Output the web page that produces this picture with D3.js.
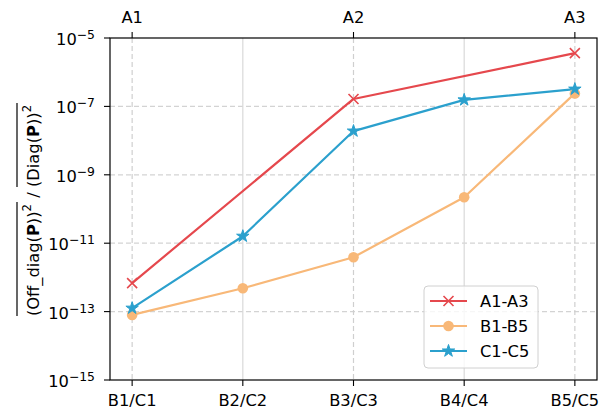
<!DOCTYPE html>
<html><head><meta charset="utf-8">
<script src="https://cdn.jsdelivr.net/npm/d3@7"></script>
<style>body{margin:0;background:#fff}svg{display:block;font-family:"DejaVu Sans",sans-serif}</style>
</head><body><svg id="c" width="610" height="412"></svg>
<script>
const categories = ["B1/C1","B2/C2","B3/C3","B4/C4","B5/C5"];
const topTicks = ["A1","A2","A3"];
const topPositions = [1,3,5];
const seriesA = [6.8e-13, 1.65e-7, 3.6e-6];          // at positions 1,3,5
const seriesB = [8e-14, 4.8e-13, 3.9e-12, 2.2e-10, 2.4e-7];
const seriesC = [1.26e-13, 1.6e-11, 1.9e-8, 1.55e-7, 3.2e-7];
const yTicks = [1e-5,1e-7,1e-9,1e-11,1e-13,1e-15];
const yExps = [-5,-7,-9,-11,-13,-15];
const seriesNames = ["A1-A3","B1-B5","C1-C5"];
const colors = ["#e5484d","#f8b878","#2ba0cd"];

const svg = d3.select("#c");
const L=110,R=597,T=38,B=380;
const x = d3.scaleLinear().domain([0.8,5.2]).range([L,R]);
const y = d3.scaleLog().domain([1e-15,1e-5]).range([B,T]);
const FS = 16.3;

// grid
const g = svg.append("g");
g.selectAll(".hg").data(yTicks.slice(1,5)).enter().append("line")
 .attr("x1",L).attr("x2",R).attr("y1",d=>y(d)).attr("y2",d=>y(d))
 .attr("stroke","#d3d3d3").attr("stroke-width",1.2).attr("stroke-dasharray","5,3");
g.selectAll(".vg").data([2,4]).enter().append("line")
 .attr("x1",d=>x(d)).attr("x2",d=>x(d)).attr("y1",T).attr("y2",B)
 .attr("stroke","#d9d9d9").attr("stroke-width",1.2);
g.selectAll(".vg2").data(topPositions).enter().append("line")
 .attr("x1",d=>x(d)).attr("x2",d=>x(d)).attr("y1",T).attr("y2",B)
 .attr("stroke","#cfcfcf").attr("stroke-width",1.2).attr("stroke-dasharray","5,3");

// lines
const line = d3.line().x(d=>x(d[0])).y(d=>y(d[1]));
const dataA = seriesA.map((v,i)=>[topPositions[i],v]);
const dataB = seriesB.map((v,i)=>[i+1,v]);
const dataC = seriesC.map((v,i)=>[i+1,v]);
const all = [dataA,dataB,dataC];
all.forEach((d,i)=>{
  svg.append("path").datum(d).attr("d",line).attr("fill","none")
    .attr("stroke",colors[i]).attr("stroke-width",2.2).attr("stroke-linejoin","round");
});
function marker(sel, type, col){
  if(type===0){
    sel.append("path").attr("d","M-5,-5L5,5M-5,5L5,-5").attr("stroke",col).attr("stroke-width",1.6).attr("fill","none");
  } else if(type===1){
    sel.append("circle").attr("r",5.3).attr("fill",col);
  } else {
    sel.append("path").attr("d",d3.symbol().type(d3.symbolStar).size(48)()).attr("fill",col).attr("stroke",col).attr("stroke-width",1).attr("stroke-linejoin","round");
  }
}
all.forEach((d,i)=>{
  d.forEach(p=>{
    const m = svg.append("g").attr("transform",`translate(${x(p[0])},${y(p[1])})`);
    marker(m,i,colors[i]);
  });
});

// frame
svg.append("rect").attr("x",L).attr("y",T).attr("width",R-L).attr("height",B-T)
 .attr("fill","none").attr("stroke","#000").attr("stroke-width",1.2);

// bottom axis
categories.forEach((c,i)=>{
  const xx=x(i+1);
  svg.append("line").attr("x1",xx).attr("x2",xx).attr("y1",B).attr("y2",B+6).attr("stroke","#000").attr("stroke-width",1.1);
  svg.append("text").attr("x",xx).attr("y",B+25.5).attr("text-anchor","middle").attr("font-size",FS).text(c);
});
// top axis
topTicks.forEach((c,i)=>{
  const xx=x(topPositions[i]);
  svg.append("line").attr("x1",xx).attr("x2",xx).attr("y1",T).attr("y2",T-6).attr("stroke","#000").attr("stroke-width",1.1);
  svg.append("text").attr("x",xx).attr("y",T-15).attr("text-anchor","middle").attr("font-size",FS).text(c);
});
// y axis
yTicks.forEach((v,i)=>{
  const yy=y(v);
  svg.append("line").attr("x1",L).attr("x2",L-6).attr("y1",yy).attr("y2",yy).attr("stroke","#000").attr("stroke-width",1.1);
  const t=svg.append("text").attr("x",L-15).attr("y",yy+7).attr("text-anchor","end").attr("font-size",FS);
  t.append("tspan").text("10");
  t.append("tspan").attr("dy",-6).attr("font-size",FS*0.76).text("\u2212"+Math.abs(yExps[i]));
});

// y label
const lg = svg.append("g").attr("transform","translate(39,210) rotate(-90)");
const pieces = [
  {t:"(Off_diag(",w:"normal",ol:1},{t:"P",w:"bold",ol:1},{t:"))",w:"normal",ol:1},
  {t:"2",w:"normal",sup:1,ol:1},{t:"\u00a0/\u00a0",w:"normal"},
  {t:"(Diag(",w:"normal",ol:2},{t:"P",w:"bold",ol:2},{t:"))",w:"normal",ol:2},{t:"2",w:"normal",sup:1,ol:2}
];
let cx=0; const ext={};
pieces.forEach(p=>{
  const t=lg.append("text").attr("x",cx).attr("y",p.sup?-8:0).attr("font-size",p.sup?FS*0.72:FS).attr("font-weight",p.w).text(p.t);
  const w=t.node().getComputedTextLength();
  if(p.ol){ if(!ext[p.ol]) ext[p.ol]=[cx,cx+w]; else ext[p.ol][1]=cx+w; }
  cx+=w+(p.sup?1:0);
});
const total=cx;
lg.selectAll("text").attr("transform",`translate(${-total/2},0)`);
Object.values(ext).forEach(e=>{
  lg.append("line").attr("x1",e[0]-total/2).attr("x2",e[1]-total/2+2).attr("y1",-22).attr("y2",-22).attr("stroke","#000").attr("stroke-width",1.2);
});

// legend
const leg=svg.append("g").attr("transform","translate(424,286)");
leg.append("rect").attr("width",114).attr("height",82).attr("rx",4).attr("fill","#fff").attr("fill-opacity",0.8).attr("stroke","#d0d0d0").attr("stroke-width",1);
seriesNames.forEach((n,i)=>{
  const yy=15+i*25;
  leg.append("line").attr("x1",6).attr("x2",43).attr("y1",yy).attr("y2",yy).attr("stroke",colors[i]).attr("stroke-width",2.2);
  const m=leg.append("g").attr("transform",`translate(24.5,${yy})`);
  marker(m,i,colors[i]);
  leg.append("text").attr("x",56).attr("y",yy+6).attr("font-size",FS).text(n);
});
</script></body></html>
